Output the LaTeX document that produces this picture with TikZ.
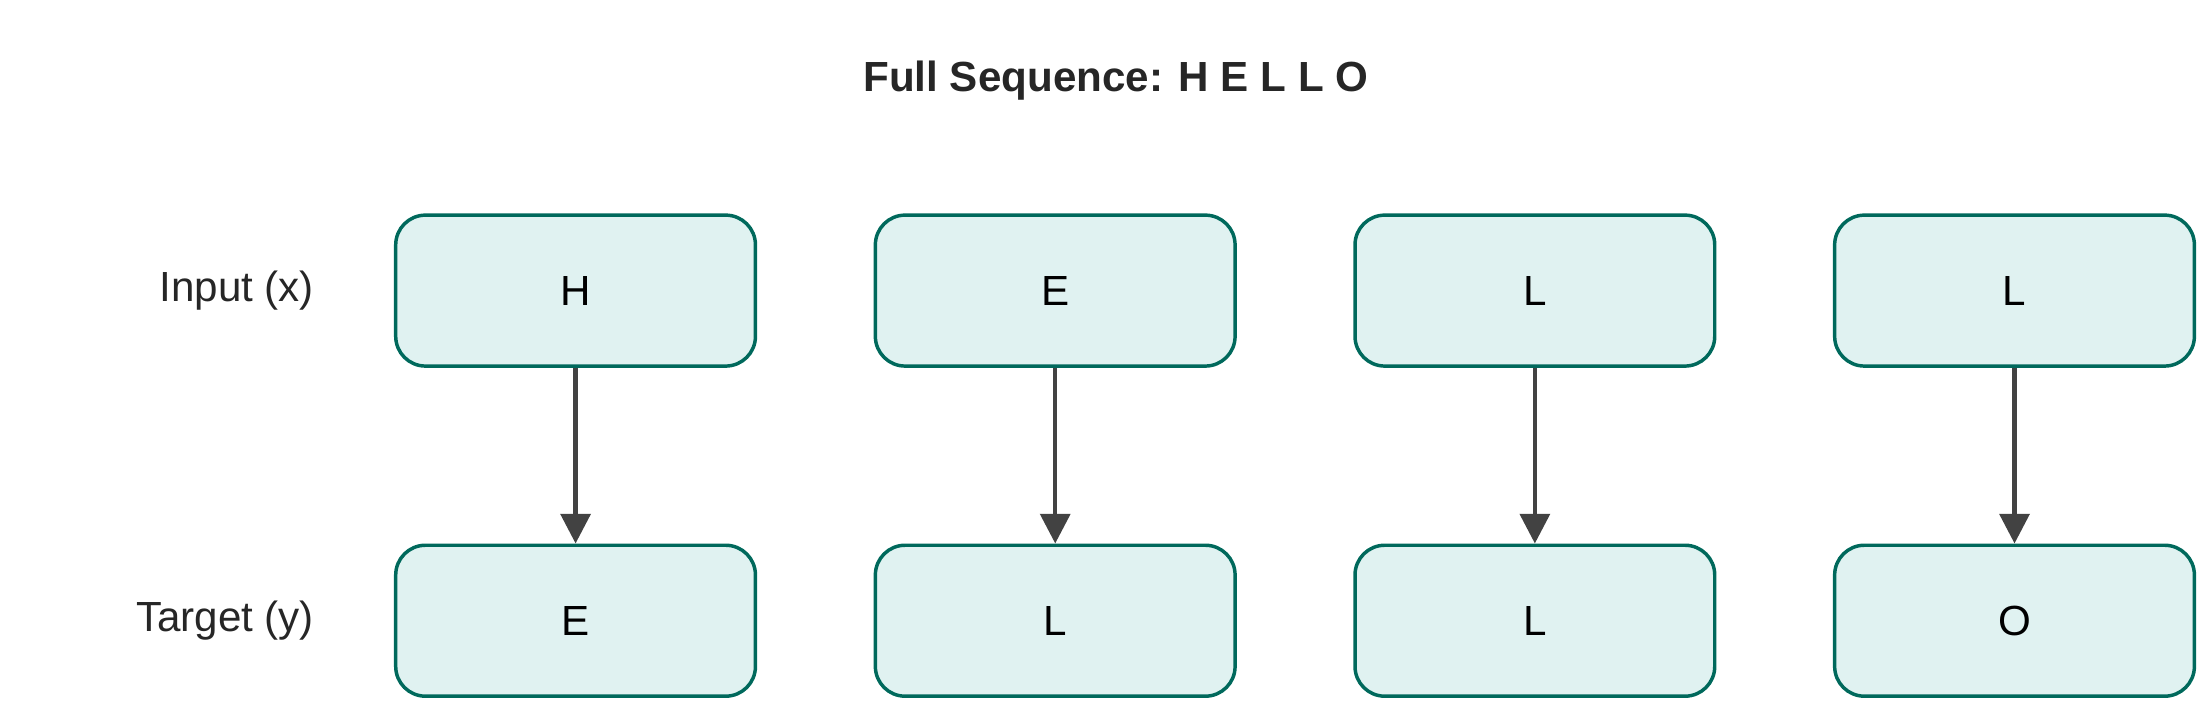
\documentclass[tikz,border=0pt]{standalone}
\usepackage{fontspec}
\setmainfont{Liberation Sans}
\usetikzlibrary{arrows.meta}
\definecolor{boxfill}{HTML}{E0F2F1}
\definecolor{boxline}{HTML}{00695C}
\definecolor{arrowcol}{HTML}{424242}
\begin{document}
\begin{tikzpicture}[x=1cm,y=1cm]
  \tikzstyle{tok}=[rectangle, rounded corners=6pt, draw=boxline, line width=0.7pt, fill=boxfill,
    minimum width=2.55cm, minimum height=1.07cm, inner sep=0pt, font=\fontsize{8.5}{10}\selectfont]
  \tikzstyle{lbl}=[anchor=east, font=\fontsize{8.5}{10}\selectfont, text=black!85]
  \tikzstyle{link}=[draw=arrowcol, line width=0.9pt, -{Triangle[length=6pt, width=6pt]}]

  \useasboundingbox (0,0) rectangle (15.68,5.05);

  \node[font=\bfseries\fontsize{8.5}{10}\selectfont, text=black!85] (title) at (7.91,4.48) {Full Sequence: H E L L O};

  \node[lbl] (in)  at (2.35,2.99) {Input (x)};
  \node[lbl] (out) at (2.35,0.65) {Target (y)};

  \node[tok] (x1) at (4.08,  2.99) {H};
  \node[tok] (x2) at (7.48,  2.99) {E};
  \node[tok] (x3) at (10.88, 2.99) {L};
  \node[tok] (x4) at (14.28, 2.99) {L};

  \node[tok] (y1) at (4.08,  0.65) {E};
  \node[tok] (y2) at (7.48,  0.65) {L};
  \node[tok] (y3) at (10.88, 0.65) {L};
  \node[tok] (y4) at (14.28, 0.65) {O};

  \path (x1) edge[link] (y1);
  \path (x2) edge[link] (y2);
  \path (x3) edge[link] (y3);
  \path (x4) edge[link] (y4);
\end{tikzpicture}
\end{document}
